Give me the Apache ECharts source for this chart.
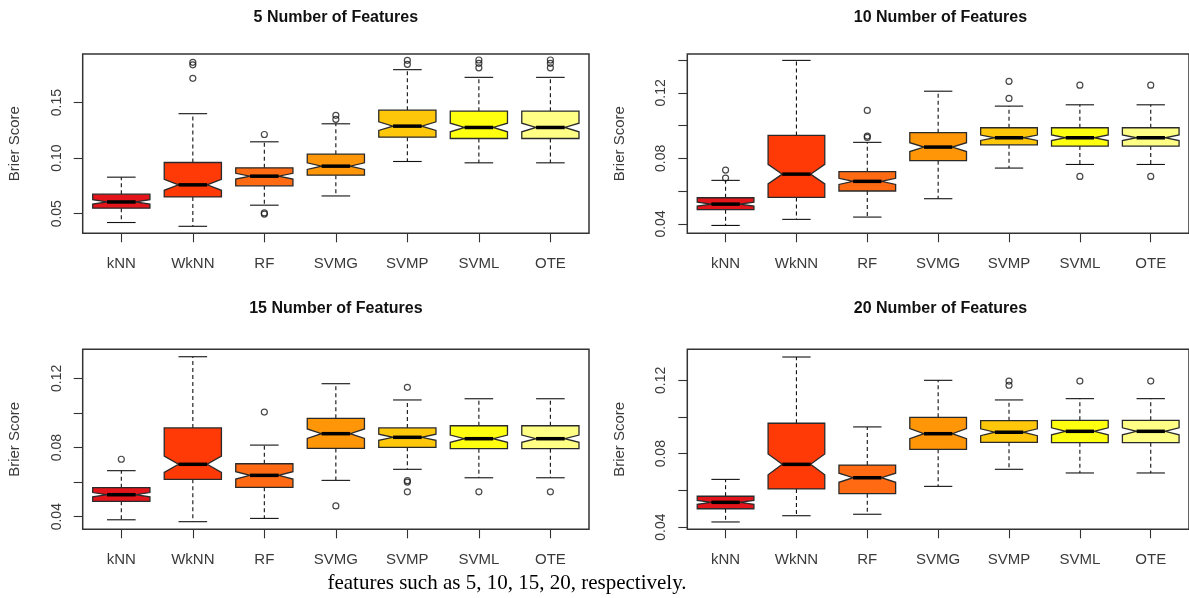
<!DOCTYPE html>
<html>
<head>
<meta charset="utf-8">
<script src="https://cdn.jsdelivr.net/npm/echarts@6/dist/echarts.min.js"></script>
<style>
  html, body { margin: 0; padding: 0; background: #fff; }
  #chart { width: 1189px; height: 598px; }
</style>
</head>
<body>
<div id="chart"></div>
<script>
// ---------------- DATA ----------------
const CATEGORIES = ['kNN', 'WkNN', 'RF', 'SVMG', 'SVMP', 'SVML', 'OTE'];
const PANEL_TITLES = ['5 Number of Features', '10 Number of Features', '15 Number of Features', '20 Number of Features'];
const Y_AXIS_NAME = 'Brier Score';
const CAPTION = 'features such as 5, 10, 15, 20, respectively.';
const N_SAMPLES = 100; // runs per box (used for R-style notches)

// box stats per category: [lower whisker, Q1, median, Q3, upper whisker]
const BOX_5 = [
  [0.0421, 0.0550, 0.0606, 0.0676, 0.0829],
  [0.0387, 0.0651, 0.0760, 0.0961, 0.1400],
  [0.0577, 0.0751, 0.0838, 0.0913, 0.1147],
  [0.0660, 0.0847, 0.0928, 0.1036, 0.1309],
  [0.0970, 0.1189, 0.1288, 0.1432, 0.1796],
  [0.0958, 0.1177, 0.1276, 0.1423, 0.1727],
  [0.0958, 0.1177, 0.1276, 0.1423, 0.1727]
];
const OUTLIERS_5 = [
  [], [0.1862, 0.1840, 0.1718], [0.1213, 0.0507, 0.0497], [0.1385, 0.1349],
  [0.1880, 0.1844], [0.1883, 0.1853, 0.1813], [0.1883, 0.1853, 0.1813]
];
const BOX_10 = [
  [0.0391, 0.0487, 0.0521, 0.0560, 0.0666],
  [0.0428, 0.0562, 0.0704, 0.0940, 0.1398],
  [0.0442, 0.0601, 0.0660, 0.0719, 0.0898],
  [0.0554, 0.0786, 0.0869, 0.0957, 0.1210],
  [0.0741, 0.0883, 0.0926, 0.0987, 0.1119],
  [0.0763, 0.0875, 0.0926, 0.0987, 0.1127],
  [0.0763, 0.0875, 0.0926, 0.0987, 0.1127]
];
const OUTLIERS_10 = [
  [0.0729, 0.0680], [], [0.1093, 0.0936, 0.0928], [],
  [0.1270, 0.1166], [0.1247, 0.0690], [0.1247, 0.0690]
];
const BOX_15 = [
  [0.0382, 0.0489, 0.0527, 0.0568, 0.0666],
  [0.0371, 0.0616, 0.0703, 0.0913, 0.1325],
  [0.0390, 0.0570, 0.0639, 0.0706, 0.0814],
  [0.0610, 0.0795, 0.0880, 0.0969, 0.1169],
  [0.0674, 0.0801, 0.0859, 0.0913, 0.1075],
  [0.0625, 0.0793, 0.0851, 0.0926, 0.1082],
  [0.0625, 0.0793, 0.0851, 0.0926, 0.1082]
];
const OUTLIERS_15 = [
  [0.0732], [], [0.1005], [0.0462],
  [0.1148, 0.0608, 0.0600, 0.0544], [0.0544], [0.0544]
];
const BOX_20 = [
  [0.0428, 0.0500, 0.0535, 0.0568, 0.0660],
  [0.0462, 0.0608, 0.0742, 0.0966, 0.1327],
  [0.0470, 0.0582, 0.0669, 0.0738, 0.0946],
  [0.0622, 0.0824, 0.0909, 0.0998, 0.1200],
  [0.0715, 0.0862, 0.0917, 0.0980, 0.1093],
  [0.0695, 0.0860, 0.0922, 0.0982, 0.1100],
  [0.0695, 0.0860, 0.0922, 0.0982, 0.1100]
];
const OUTLIERS_20 = [
  [], [], [], [],
  [0.1196, 0.1173], [0.1196], [0.1196]
];

// y-axis ticks and labels per panel
const Y_TICKS = [
  [0.05, 0.10, 0.15],
  [0.04, 0.06, 0.08, 0.10, 0.12, 0.14],
  [0.04, 0.06, 0.08, 0.10, 0.12],
  [0.04, 0.06, 0.08, 0.10, 0.12]
];
const Y_LABELS = [
  [0.05, 0.10, 0.15],
  [0.04, 0.08, 0.12],
  [0.04, 0.08, 0.12],
  [0.04, 0.08, 0.12]
];
const Y_DECIMALS = [2, 2, 2, 2];

// ---------------- STYLE / LAYOUT ----------------
const COLORS = ['#e3141a', '#ff3a06', '#ff6a12', '#ff9608', '#ffc70a', '#ffff10', '#ffff86'];
const BOXES = [BOX_5, BOX_10, BOX_15, BOX_20];
const OUTLIERS = [OUTLIERS_5, OUTLIERS_10, OUTLIERS_15, OUTLIERS_20];
const GRIDS = [
  { left: 82.7, top: 54, width: 506.3, height: 179.3 },
  { left: 687.3, top: 54, width: 506.3, height: 179.3 },
  { left: 82.7, top: 349.3, width: 506.3, height: 180 },
  { left: 687.3, top: 349.3, width: 506.3, height: 180 }
];
const TITLE_Y = [18, 18, 309, 309];
const Y_RANGES = [[0.0324, 0.1937], [0.0343, 0.1437], [0.0327, 0.1368], [0.0388, 0.1369]];
const TEXT_COLOR = '#3a3a3a';
const FONT = "'Liberation Sans', Arial, sans-serif";

function renderBox(params, api) {
  const x = api.value(0);
  const lo = api.value(1), q1 = api.value(2), med = api.value(3), q3 = api.value(4), hi = api.value(5);
  const idx = api.value(6);
  const half = api.size([0.4, 0])[0];
  const cx = api.coord([x, med])[0];
  const y = v => api.coord([x, v])[1];
  const notch = 1.58 * (q3 - q1) / Math.sqrt(N_SAMPLES);
  const cap = half / 2;
  const pts = [
    [cx - half, y(q1)], [cx + half, y(q1)], [cx + half, y(med - notch)], [cx + half / 2, y(med)],
    [cx + half, y(med + notch)], [cx + half, y(q3)], [cx - half, y(q3)], [cx - half, y(med + notch)],
    [cx - half / 2, y(med)], [cx - half, y(med - notch)]
  ];
  const lineStyle = { stroke: '#111', lineWidth: 1.1 };
  const dashStyle = { stroke: '#111', lineWidth: 1.1, lineDash: [4, 3] };
  return {
    type: 'group',
    children: [
      { type: 'line', shape: { x1: cx, y1: y(q3), x2: cx, y2: y(hi) }, style: dashStyle },
      { type: 'line', shape: { x1: cx, y1: y(q1), x2: cx, y2: y(lo) }, style: dashStyle },
      { type: 'line', shape: { x1: cx - cap, y1: y(hi), x2: cx + cap, y2: y(hi) }, style: lineStyle },
      { type: 'line', shape: { x1: cx - cap, y1: y(lo), x2: cx + cap, y2: y(lo) }, style: lineStyle },
      { type: 'polygon', shape: { points: pts }, style: { fill: COLORS[idx], stroke: '#2a2a2a', lineWidth: 1.3 } },
      { type: 'line', shape: { x1: cx - half / 2, y1: y(med), x2: cx + half / 2, y2: y(med) }, style: { stroke: '#000', lineWidth: 3.5 } }
    ]
  };
}

const option = {
  animation: false,
  backgroundColor: '#ffffff',
  grid: GRIDS.map(g => Object.assign({ show: true, borderColor: '#333', borderWidth: 1.5, backgroundColor: 'transparent' }, g)),
  xAxis: GRIDS.map((g, i) => ({
    type: 'value', gridIndex: i, min: 0.46, max: 7.54,
    axisLine: { show: false },
    splitLine: { show: false },
    axisTick: { show: true, customValues: [1, 2, 3, 4, 5, 6, 7], length: 9, lineStyle: { color: '#333', width: 1.1 } },
    axisLabel: {
      show: true, customValues: [1, 2, 3, 4, 5, 6, 7], margin: 23,
      formatter: v => CATEGORIES[Math.round(v) - 1],
      color: TEXT_COLOR, fontFamily: FONT, fontSize: 15
    }
  })),
  yAxis: GRIDS.map((g, i) => ({
    type: 'value', gridIndex: i, min: Y_RANGES[i][0], max: Y_RANGES[i][1],
    name: Y_AXIS_NAME, nameLocation: 'middle', nameGap: 60, nameRotate: 90,
    nameTextStyle: { color: TEXT_COLOR, fontFamily: FONT, fontSize: 15 },
    axisLine: { show: false },
    splitLine: { show: false },
    axisTick: { show: true, customValues: Y_TICKS[i], length: 9, lineStyle: { color: '#333', width: 1.1 } },
    axisLabel: {
      show: true, customValues: Y_LABELS[i], rotate: 90, margin: 19,
      formatter: v => v.toFixed(Y_DECIMALS[i]),
      color: TEXT_COLOR, fontFamily: FONT, fontSize: 14
    }
  })),
  series: [].concat(
    BOXES.map((box, i) => ({
      type: 'custom', xAxisIndex: i, yAxisIndex: i,
      renderItem: renderBox,
      encode: { x: 0, y: [1, 2, 3, 4, 5] },
      data: box.map((b, k) => [k + 1, b[0], b[1], b[2], b[3], b[4], k]),
      z: 2
    })),
    OUTLIERS.map((outs, i) => ({
      type: 'scatter', xAxisIndex: i, yAxisIndex: i,
      symbol: 'circle', symbolSize: 6,
      itemStyle: { color: 'rgba(255,255,255,0)', borderColor: '#1a1a1a', borderWidth: 1.2 },
      data: [].concat(...outs.map((arr, k) => arr.map(v => [k + 1, v]))),
      z: 3
    }))
  ),
  graphic: [].concat(
    GRIDS.map((g, i) => ({
      type: 'text', x: g.left + g.width / 2, y: TITLE_Y[i],
      style: { text: PANEL_TITLES[i], font: "bold 16px 'Liberation Sans', Arial, sans-serif", fill: '#111', textAlign: 'center', textVerticalAlign: 'middle' }
    })),
    [{
      type: 'text', x: 507, y: 583,
      style: { text: CAPTION, font: "21px 'Liberation Serif', 'Times New Roman', serif", fill: '#000', textAlign: 'center', textVerticalAlign: 'middle' }
    }]
  )
};

const chart = echarts.init(document.getElementById('chart'), null, { renderer: 'canvas' });
chart.setOption(option);
</script>
</body>
</html>
